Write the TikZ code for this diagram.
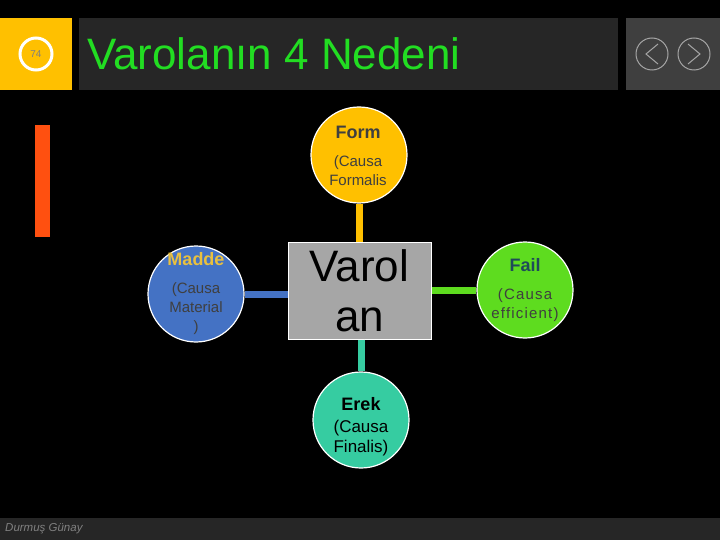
\documentclass[tikz,border=0pt]{standalone}
\usepackage{fontspec}
\setmainfont{Liberation Sans}
\definecolor{cyellow}{HTML}{FFC000}
\definecolor{cdark}{HTML}{262626}
\definecolor{cmid}{HTML}{3F3F3F}
\definecolor{cgreen}{HTML}{22DD22}
\definecolor{corange}{HTML}{FF5010}
\definecolor{cblue}{HTML}{4472C4}
\definecolor{cgold}{HTML}{E8C040}
\definecolor{cfail}{HTML}{5EDC1F}
\definecolor{cfailtxt}{HTML}{1F4A5A}
\definecolor{cteal}{HTML}{36CCA1}
\definecolor{cgray}{HTML}{A6A6A6}
\begin{document}
\begin{tikzpicture}[x=1pt,y=-1pt,
  causebox/.style={circle,draw=white,line width=1.2pt,minimum size=96pt,inner sep=0pt},
  head/.style={inner sep=0pt,font=\fontsize{18}{20}\selectfont\bfseries},
  body/.style={inner sep=0pt,align=center,anchor=north,font=\fontsize{15}{19}\selectfont},
  link/.style={line width=7pt}]
\useasboundingbox (0,0) rectangle (720,540);
\fill[black] (0,0) rectangle (720,540);
% header
\fill[cyellow] (0,18) rectangle (72,90);
\node[circle,draw=white,line width=3pt,minimum size=32pt,inner sep=0pt,text=gray,font=\fontsize{10}{12}\selectfont] (num) at (36,54) {74};
\fill[cdark] (79,18) rectangle (618,90);
\node[anchor=west,text=cgreen,font=\fontsize{44}{48}\selectfont,inner sep=0pt] (title) at (87,54) {Varolanın 4 Nedeni};
\fill[cmid] (626,18) rectangle (720,90);
\node[circle,draw=cgray,line width=1pt,minimum size=32pt,inner sep=0pt] (prev) at (652,54) {};
\node[circle,draw=cgray,line width=1pt,minimum size=32pt,inner sep=0pt] (next) at (694,54) {};
\draw[cgray,line width=1pt] (658,44) -- (646,54) -- (658,64);
\draw[cgray,line width=1pt] (688,44) -- (700,54) -- (688,64);
% side bar
\fill[corange] (35,125) rectangle (50,237);
% footer
\fill[cdark] (0,518) rectangle (720,540);
\node[anchor=west,text=gray,font=\fontsize{11.5}{14}\selectfont\itshape,inner sep=0pt] (author) at (5,529) {Durmuş Günay};
% center
\node[draw=white,line width=1pt,fill=cgray,minimum width=143pt,minimum height=97pt,inner sep=0pt,align=center,font=\fontsize{44}{50}\selectfont] (center) at (359.5,290.5) {Varol\\an};
% circles
\node[causebox,fill=cyellow] (form) at (359,155) {};
\node[causebox,fill=cblue] (madde) at (196,294) {};
\node[causebox,fill=cfail] (fail) at (525,290) {};
\node[causebox,fill=cteal] (erek) at (361,420) {};
% texts
\node[head,text=cmid] (formh) at (358,132) {Form};
\node[body,text=cmid] (formb) at (358,155) {(Causa\\Formalis};
\node[head,text=cgold] (maddeh) at (196,259) {Madde};
\node[body,text=cmid] (maddeb) at (196,282) {(Causa\\Material\\)};
\node[head,text=cfailtxt] (failh) at (525,265) {Fail};
\node[body,text=cmid] (failb) at (525,288) {\addfontfeature{LetterSpace=8}(Causa\\\addfontfeature{LetterSpace=8}efficient)};
\node[head,text=black] (erekh) at (361,404) {Erek};
\node[body,text=black,font=\fontsize{17}{20}\selectfont] (erekb) at (361,420) {(Causa\\Finalis)};
% links
\draw[link,cyellow] (form.south) -- (form.south |- center.north);
\draw[link,cblue] (madde.east) -- (madde.east -| center.west);
\draw[link,cfail] (center.east |- fail.west) -- (fail.west);
\draw[link,cteal] (erek.north |- center.south) -- (erek.north);
\end{tikzpicture}
\end{document}
